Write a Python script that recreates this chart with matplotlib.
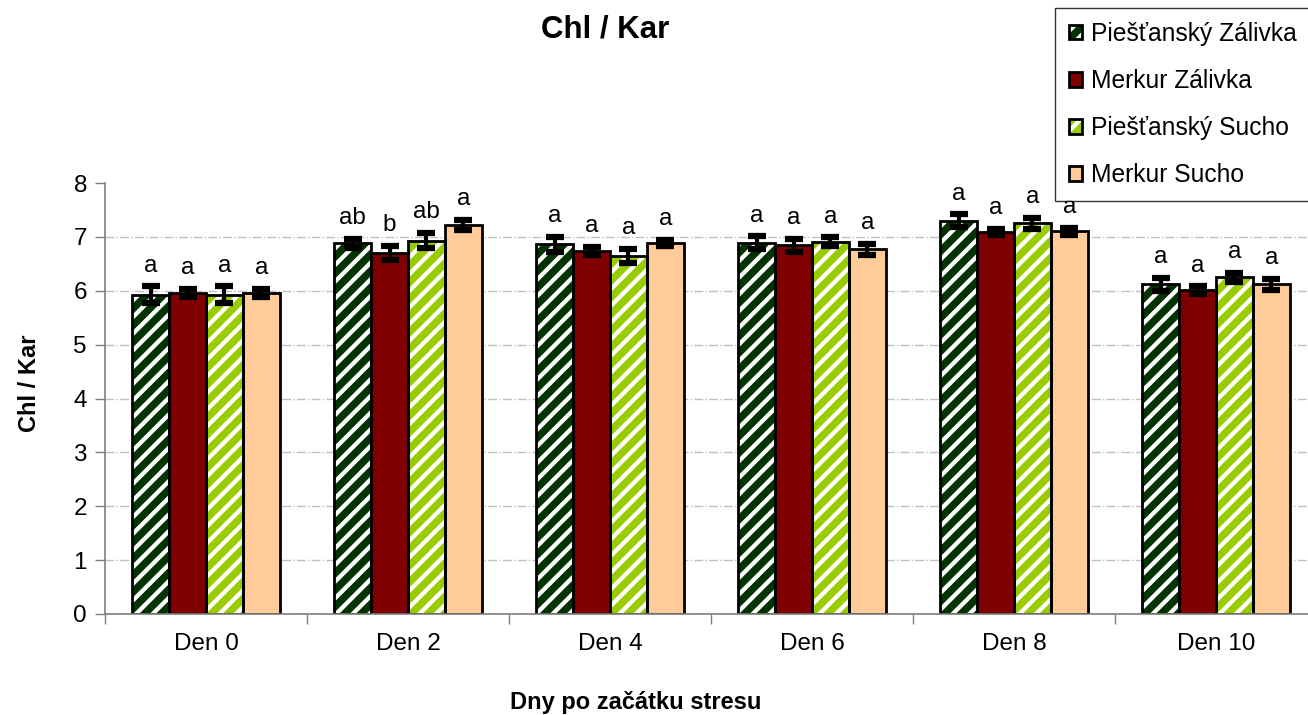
import matplotlib
matplotlib.use("Agg")
import matplotlib.pyplot as plt
import numpy as np

plt.rcParams["font.family"] = ["Liberation Sans", "DejaVu Sans"]
plt.rcParams["hatch.linewidth"] = 3.1

days = ["Den 0", "Den 2", "Den 4", "Den 6", "Den 8", "Den 10"]
series = ["Piešťanský Zálivka", "Merkur Zálivka", "Piešťanský Sucho", "Merkur Sucho"]

pz = [5.93, 6.88, 6.86, 6.89, 7.30, 6.12]
mz = [5.96, 6.70, 6.74, 6.84, 7.09, 6.01]
ps = [5.93, 6.93, 6.65, 6.91, 7.25, 6.25]
ms = [5.96, 7.22, 6.89, 6.77, 7.10, 6.12]

pz_err = [0.15, 0.08, 0.14, 0.12, 0.12, 0.12]
mz_err = [0.08, 0.13, 0.07, 0.12, 0.06, 0.07]
ps_err = [0.15, 0.14, 0.13, 0.08, 0.10, 0.08]
ms_err = [0.08, 0.09, 0.06, 0.10, 0.07, 0.10]

pz_let = ["a", "ab", "a", "a", "a", "a"]
mz_let = ["a", "b", "a", "a", "a", "a"]
ps_let = ["a", "ab", "a", "a", "a", "a"]
ms_let = ["a", "a", "a", "a", "a", "a"]

colors = ["#003300", "#800000", "#99cc00", "#ffcc99"]
hatches = ["//", None, "//", None]

W, H = 1308, 715
fig = plt.figure(figsize=(W / 100, H / 100), dpi=100)
ax = fig.add_axes([105 / W, 1 - 614 / H, (1317 - 105) / W, (614 - 183) / H])

x = np.arange(len(days))
bw = 0.183
handles = []
for i, (vals, errs, lets) in enumerate(((pz, pz_err, pz_let), (mz, mz_err, mz_let),
                                        (ps, ps_err, ps_let), (ms, ms_err, ms_let))):
    xs = x + (i - 1.5) * bw
    # fill + white hatch, then a black outline on top
    fill = ax.bar(xs, vals, bw, color=colors[i], edgecolor="white",
                  hatch=hatches[i], lw=0, zorder=2)
    edge = ax.bar(xs, vals, bw, fill=False, edgecolor="black", lw=2.0, zorder=3)
    ax.errorbar(xs, vals, yerr=errs, fmt="none", ecolor="black", elinewidth=3,
                capsize=6.5, capthick=4.5, zorder=4)
    for xx, v, e, t in zip(xs, vals, errs, lets):
        ax.annotate(t, (xx, v + e), xytext=(0, 7), textcoords="offset points",
                    ha="center", va="bottom", fontsize=17.5)
    handles.append((fill[0], edge[0]))

ax.set_xlim(-0.5, len(days) - 0.5)
ax.set_ylim(0, 8)
ax.set_yticks(range(0, 9))
ax.set_xticks(x)
ax.set_xticklabels(days)
ax.set_xticks(np.arange(-0.5, len(days)), minor=True)
ax.tick_params(axis="x", which="major", length=0, pad=14, labelsize=17.5)
ax.tick_params(axis="x", which="minor", length=7, width=1, color="#7f7f7f",
               direction="out")
ax.tick_params(axis="y", length=7, width=1, color="#7f7f7f", direction="out",
               labelsize=17.5, pad=6)
for s in ("top", "right"):
    ax.spines[s].set_visible(False)
for s in ("left", "bottom"):
    ax.spines[s].set_color("#7f7f7f")
    ax.spines[s].set_linewidth(1.2)
ax.spines["bottom"].set_zorder(5)

ax.yaxis.grid(True, color="#c0c0c0", ls="-.", lw=1.0, zorder=0)
ax.set_axisbelow(True)
ax.get_ygridlines()[-1].set_visible(False)

fig.text(605 / W, 1 - 30 / H, "Chl / Kar", ha="center", va="center",
         fontsize=22.5, fontweight="bold")
fig.text(636 / W, 1 - 703 / H, "Dny po začátku stresu", ha="center",
         va="center", fontsize=17, fontweight="bold")
fig.text(30 / W, 1 - 383 / H, "Chl / Kar", ha="center", va="center",
         rotation=90, fontsize=17, fontweight="bold")

leg = fig.legend(handles, series, loc="upper left",
                 bbox_to_anchor=(1055 / W, 1 - 8 / H), fontsize=17.7,
                 frameon=True, fancybox=False, edgecolor="black",
                 handlelength=0.55, handleheight=0.55, handletextpad=0.35,
                 labelspacing=0.94, borderpad=0.56, borderaxespad=0.0)
leg.get_frame().set_linewidth(1.0)

fig.savefig("out.png", dpi=100)
